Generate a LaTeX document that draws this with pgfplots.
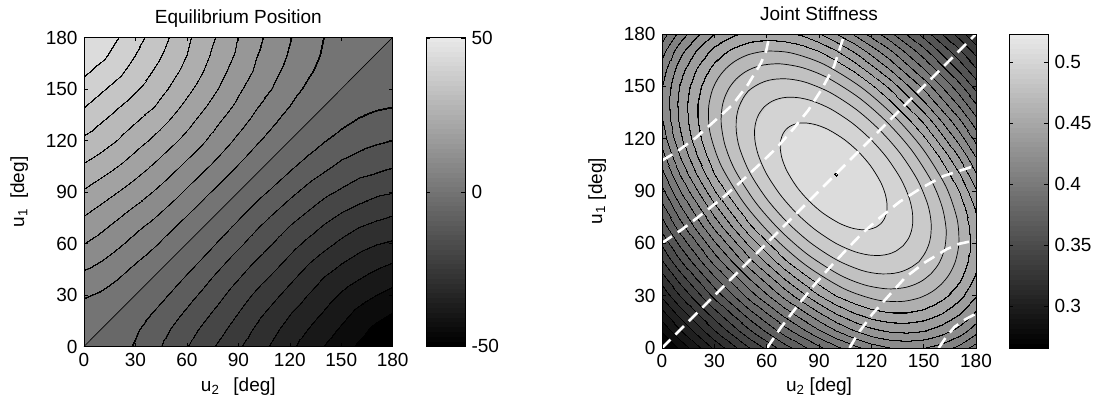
\documentclass[border=0pt]{standalone}
\usepackage{fontspec}
\setmainfont{Liberation Sans}
\usepackage{pgfplots}
\pgfplotsset{compat=1.18}

% filled contour bands with thin black contour lines (position = value scale)
\pgfplotsset{
  colormap={eqmap}{gray(0pt)=(0); gray(54.25pt)=(0); gray(54.45pt)=(0.0479);
    gray(101.55pt)=(0.0479); gray(101.75pt)=(0); gray(104.25pt)=(0); gray(104.45pt)=(0.0932);
    gray(151.55pt)=(0.0932); gray(151.75pt)=(0); gray(154.25pt)=(0); gray(154.45pt)=(0.1384);
    gray(201.55pt)=(0.1384); gray(201.75pt)=(0); gray(204.25pt)=(0); gray(204.45pt)=(0.1836);
    gray(251.55pt)=(0.1836); gray(251.75pt)=(0); gray(254.25pt)=(0); gray(254.45pt)=(0.2289);
    gray(301.55pt)=(0.2289); gray(301.75pt)=(0); gray(304.25pt)=(0); gray(304.45pt)=(0.2741);
    gray(351.55pt)=(0.2741); gray(351.75pt)=(0); gray(354.25pt)=(0); gray(354.45pt)=(0.3193);
    gray(401.55pt)=(0.3193); gray(401.75pt)=(0); gray(404.25pt)=(0); gray(404.45pt)=(0.3646);
    gray(451.55pt)=(0.3646); gray(451.75pt)=(0); gray(454.25pt)=(0); gray(454.45pt)=(0.4098);
    gray(502.9pt)=(0.4098); gray(503.1pt)=(0.4550);
    gray(551.55pt)=(0.4550); gray(551.75pt)=(0); gray(554.25pt)=(0); gray(554.45pt)=(0.5002);
    gray(601.55pt)=(0.5002); gray(601.75pt)=(0); gray(604.25pt)=(0); gray(604.45pt)=(0.5455);
    gray(651.55pt)=(0.5455); gray(651.75pt)=(0); gray(654.25pt)=(0); gray(654.45pt)=(0.5907);
    gray(701.55pt)=(0.5907); gray(701.75pt)=(0); gray(704.25pt)=(0); gray(704.45pt)=(0.6359);
    gray(751.55pt)=(0.6359); gray(751.75pt)=(0); gray(754.25pt)=(0); gray(754.45pt)=(0.6812);
    gray(801.55pt)=(0.6812); gray(801.75pt)=(0); gray(804.25pt)=(0); gray(804.45pt)=(0.7264);
    gray(851.55pt)=(0.7264); gray(851.75pt)=(0); gray(854.25pt)=(0); gray(854.45pt)=(0.7716);
    gray(901.55pt)=(0.7716); gray(901.75pt)=(0); gray(904.25pt)=(0); gray(904.45pt)=(0.8169);
    gray(951.55pt)=(0.8169); gray(951.75pt)=(0); gray(954.25pt)=(0); gray(954.45pt)=(0.8621);
    gray(1006pt)=(0.8621)},
  colormap={kmap}{gray(0pt)=(0); gray(49.5pt)=(0); gray(49.7pt)=(0.0152);
    gray(136.3pt)=(0.0152); gray(136.5pt)=(0); gray(149.5pt)=(0); gray(149.7pt)=(0.0506);
    gray(236.3pt)=(0.0506); gray(236.5pt)=(0); gray(249.5pt)=(0); gray(249.7pt)=(0.0859);
    gray(336.3pt)=(0.0859); gray(336.5pt)=(0); gray(349.5pt)=(0); gray(349.7pt)=(0.1213);
    gray(436.3pt)=(0.1213); gray(436.5pt)=(0); gray(449.5pt)=(0); gray(449.7pt)=(0.1567);
    gray(536.3pt)=(0.1567); gray(536.5pt)=(0); gray(549.5pt)=(0); gray(549.7pt)=(0.1920);
    gray(636.3pt)=(0.1920); gray(636.5pt)=(0); gray(649.5pt)=(0); gray(649.7pt)=(0.2274);
    gray(736.3pt)=(0.2274); gray(736.5pt)=(0); gray(749.5pt)=(0); gray(749.7pt)=(0.2628);
    gray(836.3pt)=(0.2628); gray(836.5pt)=(0); gray(849.5pt)=(0); gray(849.7pt)=(0.2981);
    gray(936.3pt)=(0.2981); gray(936.5pt)=(0); gray(949.5pt)=(0); gray(949.7pt)=(0.3335);
    gray(1036.3pt)=(0.3335); gray(1036.5pt)=(0); gray(1049.5pt)=(0); gray(1049.7pt)=(0.3689);
    gray(1136.3pt)=(0.3689); gray(1136.5pt)=(0); gray(1149.5pt)=(0); gray(1149.7pt)=(0.4042);
    gray(1236.3pt)=(0.4042); gray(1236.5pt)=(0); gray(1249.5pt)=(0); gray(1249.7pt)=(0.4396);
    gray(1336.3pt)=(0.4396); gray(1336.5pt)=(0); gray(1349.5pt)=(0); gray(1349.7pt)=(0.4750);
    gray(1436.3pt)=(0.4750); gray(1436.5pt)=(0); gray(1449.5pt)=(0); gray(1449.7pt)=(0.5103);
    gray(1536.3pt)=(0.5103); gray(1536.5pt)=(0); gray(1549.5pt)=(0); gray(1549.7pt)=(0.5457);
    gray(1636.3pt)=(0.5457); gray(1636.5pt)=(0); gray(1649.5pt)=(0); gray(1649.7pt)=(0.5811);
    gray(1736.3pt)=(0.5811); gray(1736.5pt)=(0); gray(1749.5pt)=(0); gray(1749.7pt)=(0.6164);
    gray(1836.8pt)=(0.6164); gray(1837pt)=(0); gray(1849pt)=(0); gray(1849.2pt)=(0.6518);
    gray(1937.3pt)=(0.6518); gray(1937.5pt)=(0); gray(1948.5pt)=(0); gray(1948.7pt)=(0.6872);
    gray(2042.9pt)=(0.6872); gray(2043.1pt)=(0.7225);
    gray(2142.9pt)=(0.7225); gray(2143.1pt)=(0.7579);
    gray(2242.9pt)=(0.7579); gray(2243.1pt)=(0.7933);
    gray(2342.9pt)=(0.7933); gray(2343.1pt)=(0.8286);
    gray(2442.9pt)=(0.8286); gray(2443.1pt)=(0.8640);
    gray(2541.3pt)=(0.8640); gray(2541.5pt)=(0); gray(2544.5pt)=(0); gray(2544.7pt)=(0.8994);
    gray(2573pt)=(0.8994)},
  % 64-level gray scale for the colour bars
  colormap={cbgray}{gray(0pt)=(0); gray(1pt)=(0.0144); gray(2pt)=(0.0289); gray(3pt)=(0.0433);
    gray(4pt)=(0.0578); gray(5pt)=(0.0722); gray(6pt)=(0.0867); gray(7pt)=(0.1011);
    gray(8pt)=(0.1156); gray(9pt)=(0.1300); gray(10pt)=(0.1444); gray(11pt)=(0.1589);
    gray(12pt)=(0.1733); gray(13pt)=(0.1878); gray(14pt)=(0.2022); gray(15pt)=(0.2167);
    gray(16pt)=(0.2311); gray(17pt)=(0.2456); gray(18pt)=(0.2600); gray(19pt)=(0.2744);
    gray(20pt)=(0.2889); gray(21pt)=(0.3033); gray(22pt)=(0.3178); gray(23pt)=(0.3322);
    gray(24pt)=(0.3467); gray(25pt)=(0.3611); gray(26pt)=(0.3756); gray(27pt)=(0.3900);
    gray(28pt)=(0.4044); gray(29pt)=(0.4189); gray(30pt)=(0.4333); gray(31pt)=(0.4478);
    gray(32pt)=(0.4622); gray(33pt)=(0.4767); gray(34pt)=(0.4911); gray(35pt)=(0.5056);
    gray(36pt)=(0.5200); gray(37pt)=(0.5344); gray(38pt)=(0.5489); gray(39pt)=(0.5633);
    gray(40pt)=(0.5778); gray(41pt)=(0.5922); gray(42pt)=(0.6067); gray(43pt)=(0.6211);
    gray(44pt)=(0.6356); gray(45pt)=(0.6500); gray(46pt)=(0.6644); gray(47pt)=(0.6789);
    gray(48pt)=(0.6933); gray(49pt)=(0.7078); gray(50pt)=(0.7222); gray(51pt)=(0.7367);
    gray(52pt)=(0.7511); gray(53pt)=(0.7656); gray(54pt)=(0.7800); gray(55pt)=(0.7944);
    gray(56pt)=(0.8089); gray(57pt)=(0.8233); gray(58pt)=(0.8378); gray(59pt)=(0.8522);
    gray(60pt)=(0.8667); gray(61pt)=(0.8811); gray(62pt)=(0.8956); gray(63pt)=(0.9100);
    gray(64pt)=(0.9100)},
  panel/.style={anchor=south west, scale only axis,
    xmin=0, xmax=180, ymin=0, ymax=180,
    xtick={0,30,...,180}, ytick={0,30,...,180},
    tick align=inside, major tick length=4pt, axis on top, enlargelimits=false,
    /pgf/number format/assume math mode=true,
    tick style={black, line width=0.6pt}, axis line style={line width=0.6pt},
    title style={at={(axis description cs:0.5,1)}, anchor=base, yshift=8pt},
    xlabel style={at={(axis description cs:0.5,0)}, anchor=base},
    ylabel style={anchor=base}},
  cbar/.style={anchor=south west, scale only axis, width=39pt,
    xmin=0, xmax=1, xtick=\empty, ytick pos=both, yticklabel pos=right,
    tick align=inside, major tick length=4pt, axis on top, enlargelimits=false,
    tick style={black, line width=0.6pt}, axis line style={line width=0.6pt},
    colormap name=cbgray, colormap access=piecewise constant},
  qline/.style={white, line width=2.6pt, dash pattern=on 12pt off 7pt},
  ring/.style={black, line width=0.7pt, smooth}
}

\begin{document}
\fontsize{19}{22}\selectfont
\begin{tikzpicture}
\useasboundingbox (0,0) rectangle (1095pt,410pt);

% ---------------- equilibrium position ----------------
\begin{axis}[panel, at={(84pt,63.5pt)}, width=308.7pt, height=309pt,
  colormap name=eqmap, point meta min=-50.3, point meta max=50.3,
  title={Equilibrium Position},
  xlabel={u\textsubscript{2}\hspace{14pt}[deg]}, xlabel style={yshift=-45pt},
  ylabel={u\textsubscript{1}\hspace{10pt}[deg]}, ylabel style={at={(axis description cs:-0.194,0.5)}}]
\addplot[surf, shader=interp, mesh/rows=19, mesh/cols=19, point meta=explicit] coordinates {
(0,0) [0] (10,0) [-1.0] (20,0) [-2.9] (30,0) [-5.5] (40,0) [-8.5] (50,0) [-11.7] (60,0) [-14.9] (70,0) [-18.1] (80,0) [-21.2] (90,0) [-24.4] (100,0) [-27.6] (110,0) [-30.9] (120,0) [-34.0] (130,0) [-37.2] (140,0) [-40.2] (150,0) [-43.0] (160,0) [-45.7] (170,0) [-48.1] (180,0) [-50.3]
(0,10) [1.0] (10,10) [0] (20,10) [-1.8] (30,10) [-4.3] (40,10) [-7.1] (50,10) [-10.0] (60,10) [-13.0] (70,10) [-16.0] (80,10) [-19.0] (90,10) [-22.2] (100,10) [-25.5] (110,10) [-28.9] (120,10) [-32.0] (130,10) [-34.9] (140,10) [-37.8] (150,10) [-40.6] (160,10) [-43.4] (170,10) [-46.1] (180,10) [-47.8]
(0,20) [2.9] (10,20) [1.8] (20,20) [0] (30,20) [-2.4] (40,20) [-5.1] (50,20) [-7.8] (60,20) [-10.7] (70,20) [-13.7] (80,20) [-16.7] (90,20) [-19.9] (100,20) [-23.2] (110,20) [-26.5] (120,20) [-29.7] (130,20) [-32.5] (140,20) [-35.3] (150,20) [-38.2] (160,20) [-41.0] (170,20) [-43.2] (180,20) [-45.0]
(0,30) [5.5] (10,30) [4.3] (20,30) [2.4] (30,30) [0] (40,30) [-2.6] (50,30) [-5.4] (60,30) [-8.3] (70,30) [-11.2] (80,30) [-14.3] (90,30) [-17.5] (100,30) [-20.7] (110,30) [-23.8] (120,30) [-26.9] (130,30) [-30.0] (140,30) [-32.9] (150,30) [-35.6] (160,30) [-37.9] (170,30) [-40.0] (180,30) [-41.7]
(0,40) [8.5] (10,40) [7.1] (20,40) [5.1] (30,40) [2.6] (40,40) [0] (50,40) [-2.8] (60,40) [-5.7] (70,40) [-8.7] (80,40) [-11.8] (90,40) [-14.8] (100,40) [-17.9] (110,40) [-21.0] (120,40) [-24.1] (130,40) [-27.2] (140,40) [-30.3] (150,40) [-32.7] (160,40) [-34.7] (170,40) [-36.7] (180,40) [-38.3]
(0,50) [11.7] (10,50) [10.0] (20,50) [7.8] (30,50) [5.4] (40,50) [2.8] (50,50) [0] (60,50) [-2.9] (70,50) [-5.9] (80,50) [-9.0] (90,50) [-12.1] (100,50) [-15.1] (110,50) [-18.1] (120,50) [-21.2] (130,50) [-24.3] (140,50) [-27.0] (150,50) [-29.5] (160,50) [-31.6] (170,50) [-33.3] (180,50) [-34.7]
(0,60) [14.9] (10,60) [13.0] (20,60) [10.7] (30,60) [8.3] (40,60) [5.7] (50,60) [2.9] (60,60) [0] (70,60) [-3.0] (80,60) [-6.1] (90,60) [-9.1] (100,60) [-12.2] (110,60) [-15.2] (120,60) [-18.3] (130,60) [-21.1] (140,60) [-23.7] (150,60) [-26.1] (160,60) [-28.3] (170,60) [-29.9] (180,60) [-30.8]
(0,70) [18.1] (10,70) [16.0] (20,70) [13.7] (30,70) [11.2] (40,70) [8.7] (50,70) [5.9] (60,70) [3.0] (70,70) [0] (80,70) [-3.1] (90,70) [-6.1] (100,70) [-9.2] (110,70) [-12.3] (120,70) [-15.2] (130,70) [-17.8] (140,70) [-20.4] (150,70) [-22.7] (160,70) [-24.7] (170,70) [-26.2] (180,70) [-27.2]
(0,80) [21.2] (10,80) [19.0] (20,80) [16.7] (30,80) [14.3] (40,80) [11.8] (50,80) [9.0] (60,80) [6.1] (70,80) [3.1] (80,80) [0] (90,80) [-3.1] (100,80) [-6.2] (110,80) [-9.2] (120,80) [-12.0] (130,80) [-14.6] (140,80) [-17.1] (150,80) [-19.3] (160,80) [-21.0] (170,80) [-22.5] (180,80) [-23.8]
(0,90) [24.4] (10,90) [22.2] (20,90) [19.9] (30,90) [17.5] (40,90) [14.8] (50,90) [12.1] (60,90) [9.1] (70,90) [6.1] (80,90) [3.1] (90,90) [0] (100,90) [-3.1] (110,90) [-6.1] (120,90) [-8.9] (130,90) [-11.5] (140,90) [-13.9] (150,90) [-15.8] (160,90) [-17.6] (170,90) [-19.1] (180,90) [-19.8]
(0,100) [27.6] (10,100) [25.5] (20,100) [23.2] (30,100) [20.7] (40,100) [17.9] (50,100) [15.1] (60,100) [12.2] (70,100) [9.2] (80,100) [6.2] (90,100) [3.1] (100,100) [0] (110,100) [-3.0] (120,100) [-5.8] (130,100) [-8.4] (140,100) [-10.6] (150,100) [-12.6] (160,100) [-14.4] (170,100) [-15.4] (180,100) [-16.4]
(0,110) [30.9] (10,110) [28.9] (20,110) [26.5] (30,110) [23.8] (40,110) [21.0] (50,110) [18.1] (60,110) [15.2] (70,110) [12.3] (80,110) [9.2] (90,110) [6.1] (100,110) [3.0] (110,110) [0] (120,110) [-2.8] (130,110) [-5.4] (140,110) [-7.6] (150,110) [-9.7] (160,110) [-11.1] (170,110) [-12.4] (180,110) [-13.1]
(0,120) [34.0] (10,120) [32.0] (20,120) [29.7] (30,120) [26.9] (40,120) [24.1] (50,120) [21.2] (60,120) [18.3] (70,120) [15.2] (80,120) [12.0] (90,120) [8.9] (100,120) [5.8] (110,120) [2.8] (120,120) [0] (130,120) [-2.6] (140,120) [-4.9] (150,120) [-6.7] (160,120) [-8.3] (170,120) [-9.4] (180,120) [-10.2]
(0,130) [37.2] (10,130) [34.9] (20,130) [32.5] (30,130) [30.0] (40,130) [27.2] (50,130) [24.3] (60,130) [21.1] (70,130) [17.8] (80,130) [14.6] (90,130) [11.5] (100,130) [8.4] (110,130) [5.4] (120,130) [2.6] (130,130) [0] (140,130) [-2.2] (150,130) [-4.2] (160,130) [-5.7] (170,130) [-6.8] (180,130) [-7.3]
(0,140) [40.2] (10,140) [37.8] (20,140) [35.3] (30,140) [32.9] (40,140) [30.3] (50,140) [27.0] (60,140) [23.7] (70,140) [20.4] (80,140) [17.1] (90,140) [13.9] (100,140) [10.6] (110,140) [7.6] (120,140) [4.9] (130,140) [2.2] (140,140) [0] (150,140) [-1.9] (160,140) [-3.4] (170,140) [-4.4] (180,140) [-4.9]
(0,150) [43.0] (10,150) [40.6] (20,150) [38.2] (30,150) [35.6] (40,150) [32.7] (50,150) [29.5] (60,150) [26.1] (70,150) [22.7] (80,150) [19.3] (90,150) [15.8] (100,150) [12.6] (110,150) [9.7] (120,150) [6.7] (130,150) [4.2] (140,150) [1.9] (150,150) [0] (160,150) [-1.5] (170,150) [-2.5] (180,150) [-3.1]
(0,160) [45.7] (10,160) [43.4] (20,160) [41.0] (30,160) [37.9] (40,160) [34.7] (50,160) [31.6] (60,160) [28.3] (70,160) [24.7] (80,160) [21.0] (90,160) [17.6] (100,160) [14.4] (110,160) [11.1] (120,160) [8.3] (130,160) [5.7] (140,160) [3.4] (150,160) [1.5] (160,160) [0] (170,160) [-1.0] (180,160) [-1.6]
(0,170) [48.1] (10,170) [46.1] (20,170) [43.2] (30,170) [40.0] (40,170) [36.7] (50,170) [33.3] (60,170) [29.9] (70,170) [26.2] (80,170) [22.5] (90,170) [19.1] (100,170) [15.4] (110,170) [12.4] (120,170) [9.4] (130,170) [6.8] (140,170) [4.4] (150,170) [2.5] (160,170) [1.0] (170,170) [0] (180,170) [-0.6]
(0,180) [50.3] (10,180) [47.8] (20,180) [45.0] (30,180) [41.7] (40,180) [38.3] (50,180) [34.7] (60,180) [30.8] (70,180) [27.2] (80,180) [23.8] (90,180) [19.8] (100,180) [16.4] (110,180) [13.1] (120,180) [10.2] (130,180) [7.3] (140,180) [4.9] (150,180) [3.1] (160,180) [1.6] (170,180) [0.6] (180,180) [0]
};
% zero-position contour
\addplot[black, line width=0.7pt] coordinates {(0,0) (180,180)};
\end{axis}

\begin{axis}[cbar, at={(426pt,63.5pt)}, height=309pt, ymin=-50.3, ymax=50.3,
  ytick={-50,0,50}, yticklabels={-50,0,50}, point meta min=-50.3, point meta max=50.3]
\addplot[surf, shader=interp, mesh/rows=2, mesh/cols=2, point meta=explicit] coordinates {
(0,-50.3) [-50.3] (1,-50.3) [-50.3]
(0,50.3) [50.3] (1,50.3) [50.3]
};
\end{axis}

% ---------------- joint stiffness ----------------
\begin{axis}[panel, at={(662pt,62pt)}, width=314pt, height=314pt,
  colormap name=kmap, point meta min=0.2657, point meta max=0.523,
  title={Joint Stiffness},
  xlabel={u\textsubscript{2} [deg]}, xlabel style={yshift=-43pt},
  ylabel={u\textsubscript{1} [deg]}, ylabel style={at={(axis description cs:-0.191,0.5)}}]
\addplot[surf, shader=interp, mesh/rows=19, mesh/cols=19, point meta=explicit] coordinates {
(0,0) [0.2656] (10,0) [0.2814] (20,0) [0.2968] (30,0) [0.3116] (40,0) [0.3258] (50,0) [0.3394] (60,0) [0.3525] (70,0) [0.3648] (80,0) [0.3764] (90,0) [0.3872] (100,0) [0.3971] (110,0) [0.4063] (120,0) [0.4141] (130,0) [0.4193] (140,0) [0.4212] (150,0) [0.4198] (160,0) [0.4150] (170,0) [0.4065] (180,0) [0.3945]
(0,10) [0.2814] (10,10) [0.2979] (20,10) [0.3137] (30,10) [0.3290] (40,10) [0.3438] (50,10) [0.3581] (60,10) [0.3717] (70,10) [0.3847] (80,10) [0.3970] (90,10) [0.4086] (100,10) [0.4195] (110,10) [0.4293] (120,10) [0.4367] (130,10) [0.4408] (140,10) [0.4420] (150,10) [0.4400] (160,10) [0.4345] (170,10) [0.4257] (180,10) [0.4132]
(0,20) [0.2968] (10,20) [0.3137] (20,20) [0.3301] (30,20) [0.3459] (40,20) [0.3613] (50,20) [0.3761] (60,20) [0.3903] (70,20) [0.4039] (80,20) [0.4169] (90,20) [0.4293] (100,20) [0.4408] (110,20) [0.4499] (120,20) [0.4560] (130,20) [0.4594] (140,20) [0.4596] (150,20) [0.4567] (160,20) [0.4507] (170,20) [0.4412] (180,20) [0.4284]
(0,30) [0.3116] (10,30) [0.3290] (20,30) [0.3459] (30,30) [0.3624] (40,30) [0.3782] (50,30) [0.3935] (60,30) [0.4083] (70,30) [0.4225] (80,30) [0.4362] (90,30) [0.4491] (100,30) [0.4597] (110,30) [0.4675] (120,30) [0.4726] (130,30) [0.4748] (140,30) [0.4741] (150,30) [0.4703] (160,30) [0.4634] (170,30) [0.4534] (180,30) [0.4400]
(0,40) [0.3258] (10,40) [0.3438] (20,40) [0.3613] (30,40) [0.3782] (40,40) [0.3946] (50,40) [0.4104] (60,40) [0.4257] (70,40) [0.4406] (80,40) [0.4547] (90,40) [0.4666] (100,40) [0.4758] (110,40) [0.4824] (120,40) [0.4863] (130,40) [0.4873] (140,40) [0.4855] (150,40) [0.4808] (160,40) [0.4730] (170,40) [0.4622] (180,40) [0.4481]
(0,50) [0.3394] (10,50) [0.3581] (20,50) [0.3761] (30,50) [0.3935] (40,50) [0.4104] (50,50) [0.4268] (60,50) [0.4427] (70,50) [0.4579] (80,50) [0.4710] (90,50) [0.4814] (100,50) [0.4893] (110,50) [0.4946] (120,50) [0.4971] (130,50) [0.4970] (140,50) [0.4940] (150,50) [0.4882] (160,50) [0.4796] (170,50) [0.4677] (180,50) [0.4529]
(0,60) [0.3525] (10,60) [0.3717] (20,60) [0.3903] (30,60) [0.4083] (40,60) [0.4257] (50,60) [0.4427] (60,60) [0.4590] (70,60) [0.4731] (80,60) [0.4846] (90,60) [0.4937] (100,60) [0.5002] (110,60) [0.5040] (120,60) [0.5053] (130,60) [0.5038] (140,60) [0.4997] (150,60) [0.4928] (160,60) [0.4829] (170,60) [0.4703] (180,60) [0.4544]
(0,70) [0.3648] (10,70) [0.3847] (20,70) [0.4039] (30,70) [0.4225] (40,70) [0.4406] (50,70) [0.4579] (60,70) [0.4731] (70,70) [0.4857] (80,70) [0.4958] (90,70) [0.5034] (100,70) [0.5084] (110,70) [0.5109] (120,70) [0.5107] (130,70) [0.5080] (140,70) [0.5026] (150,70) [0.4944] (160,70) [0.4835] (170,70) [0.4696] (180,70) [0.4530]
(0,80) [0.3764] (10,80) [0.3970] (20,80) [0.4169] (30,80) [0.4362] (40,80) [0.4547] (50,80) [0.4710] (60,80) [0.4846] (70,80) [0.4958] (80,80) [0.5045] (90,80) [0.5105] (100,80) [0.5141] (110,80) [0.5151] (120,80) [0.5136] (130,80) [0.5095] (140,80) [0.5027] (150,80) [0.4933] (160,80) [0.4811] (170,80) [0.4662] (180,80) [0.4484]
(0,90) [0.3872] (10,90) [0.4086] (20,90) [0.4293] (30,90) [0.4491] (40,90) [0.4666] (50,90) [0.4814] (60,90) [0.4937] (70,90) [0.5034] (80,90) [0.5105] (90,90) [0.5152] (100,90) [0.5172] (110,90) [0.5168] (120,90) [0.5139] (130,90) [0.5083] (140,90) [0.5002] (150,90) [0.4894] (160,90) [0.4760] (170,90) [0.4599] (180,90) [0.4409]
(0,100) [0.3971] (10,100) [0.4195] (20,100) [0.4408] (30,100) [0.4597] (40,100) [0.4758] (50,100) [0.4893] (60,100) [0.5002] (70,100) [0.5084] (80,100) [0.5141] (90,100) [0.5172] (100,100) [0.5202] (110,100) [0.5160] (120,100) [0.5115] (130,100) [0.5046] (140,100) [0.4950] (150,100) [0.4829] (160,100) [0.4682] (170,100) [0.4507] (180,100) [0.4306]
(0,110) [0.4063] (10,110) [0.4293] (20,110) [0.4499] (30,110) [0.4675] (40,110) [0.4824] (50,110) [0.4946] (60,110) [0.5040] (70,110) [0.5109] (80,110) [0.5151] (90,110) [0.5168] (100,110) [0.5160] (110,110) [0.5126] (120,110) [0.5067] (130,110) [0.4982] (140,110) [0.4873] (150,110) [0.4738] (160,110) [0.4576] (170,110) [0.4389] (180,110) [0.4189]
(0,120) [0.4141] (10,120) [0.4367] (20,120) [0.4560] (30,120) [0.4726] (40,120) [0.4863] (50,120) [0.4971] (60,120) [0.5053] (70,120) [0.5107] (80,120) [0.5136] (90,120) [0.5139] (100,120) [0.5115] (110,120) [0.5067] (120,120) [0.4993] (130,120) [0.4894] (140,120) [0.4770] (150,120) [0.4620] (160,120) [0.4445] (170,120) [0.4258] (180,120) [0.4066]
(0,130) [0.4193] (10,130) [0.4408] (20,130) [0.4594] (30,130) [0.4748] (40,130) [0.4873] (50,130) [0.4970] (60,130) [0.5038] (70,130) [0.5080] (80,130) [0.5095] (90,130) [0.5083] (100,130) [0.5046] (110,130) [0.4982] (120,130) [0.4894] (130,130) [0.4781] (140,130) [0.4641] (150,130) [0.4477] (160,130) [0.4302] (170,130) [0.4122] (180,130) [0.3936]
(0,140) [0.4212] (10,140) [0.4420] (20,140) [0.4596] (30,140) [0.4741] (40,140) [0.4855] (50,140) [0.4940] (60,140) [0.4997] (70,140) [0.5026] (80,140) [0.5027] (90,140) [0.5002] (100,140) [0.4950] (110,140) [0.4873] (120,140) [0.4770] (130,140) [0.4641] (140,140) [0.4488] (150,140) [0.4323] (160,140) [0.4154] (170,140) [0.3980] (180,140) [0.3800]
(0,150) [0.4198] (10,150) [0.4400] (20,150) [0.4567] (30,150) [0.4703] (40,150) [0.4808] (50,150) [0.4882] (60,150) [0.4928] (70,150) [0.4944] (80,150) [0.4933] (90,150) [0.4894] (100,150) [0.4829] (110,150) [0.4738] (120,150) [0.4620] (130,150) [0.4477] (140,150) [0.4323] (150,150) [0.4165] (160,150) [0.4001] (170,150) [0.3832] (180,150) [0.3657]
(0,160) [0.4150] (10,160) [0.4345] (20,160) [0.4507] (30,160) [0.4634] (40,160) [0.4730] (50,160) [0.4796] (60,160) [0.4829] (70,160) [0.4835] (80,160) [0.4811] (90,160) [0.4760] (100,160) [0.4682] (110,160) [0.4576] (120,160) [0.4445] (130,160) [0.4302] (140,160) [0.4154] (150,160) [0.4001] (160,160) [0.3843] (170,160) [0.3678] (180,160) [0.3509]
(0,170) [0.4065] (10,170) [0.4257] (20,170) [0.4412] (30,170) [0.4534] (40,170) [0.4622] (50,170) [0.4677] (60,170) [0.4703] (70,170) [0.4696] (80,170) [0.4662] (90,170) [0.4599] (100,170) [0.4507] (110,170) [0.4389] (120,170) [0.4258] (130,170) [0.4122] (140,170) [0.3980] (150,170) [0.3832] (160,170) [0.3678] (170,170) [0.3520] (180,170) [0.3356]
(0,180) [0.3945] (10,180) [0.4132] (20,180) [0.4284] (30,180) [0.4400] (40,180) [0.4481] (50,180) [0.4529] (60,180) [0.4544] (70,180) [0.4530] (80,180) [0.4484] (90,180) [0.4409] (100,180) [0.4306] (110,180) [0.4189] (120,180) [0.4066] (130,180) [0.3936] (140,180) [0.3800] (150,180) [0.3657] (160,180) [0.3509] (170,180) [0.3356] (180,180) [0.3198]
};
% closed inner contours 0.47 ... 0.51
\addplot[ring] coordinates {(160.18,36.62) (163.45,40.45) (165.93,44.43) (168.42,50.42) (170.18,60.18) (169.11,74.11) (162.69,92.69) (149.34,114.34) (133.04,133.04) (114.34,149.34) (92.69,162.69) (74.11,169.11) (60.18,170.18) (50.42,168.42) (44.43,165.93) (40.45,163.45) (36.62,160.18) (33.35,156.35) (30.87,152.37) (28.38,146.38) (26.62,136.62) (27.69,122.69) (34.11,104.11) (47.46,82.46) (63.76,63.76) (82.46,47.46) (104.11,34.11) (122.69,27.69) (136.62,26.62) (146.38,28.38) (152.37,30.87) (156.35,33.35) (160.18,36.62)};
\addplot[ring] coordinates {(154.23,42.57) (157.83,47.03) (160.37,51.87) (162.26,58.26) (162.89,67.89) (160.65,80.65) (154.91,94.91) (143.24,113.24) (129.22,129.22) (113.24,143.24) (94.91,154.91) (80.65,160.65) (67.89,162.89) (58.26,162.26) (51.87,160.37) (47.03,157.83) (42.57,154.23) (38.97,149.77) (36.43,144.93) (34.54,138.54) (33.91,128.91) (36.15,116.15) (41.89,101.89) (53.56,83.56) (67.58,67.58) (83.56,53.56) (101.89,41.89) (116.15,36.15) (128.91,33.91) (138.54,34.54) (144.93,36.43) (149.77,38.97) (154.23,42.57)};
\addplot[ring] coordinates {(147.3,49.5) (150.55,54.05) (152.73,58.73) (154.02,64.02) (154.24,72.24) (152.32,82.32) (146.43,96.43) (136.57,111.57) (124.86,124.86) (111.57,136.57) (96.43,146.43) (82.32,152.32) (72.24,154.24) (64.02,154.02) (58.73,152.73) (54.05,150.55) (49.5,147.3) (46.25,142.75) (44.07,138.07) (42.78,132.78) (42.56,124.56) (44.48,114.48) (50.37,100.37) (60.23,85.23) (71.94,71.94) (85.23,60.23) (100.37,50.37) (114.48,44.48) (124.56,42.56) (132.78,42.78) (138.07,44.07) (142.75,46.25) (147.3,49.5)};
\addplot[ring] coordinates {(138.2,58.6) (141.3,62.8) (142.93,66.93) (143.73,71.73) (143.45,78.45) (141.51,86.51) (136.92,96.92) (128.98,108.98) (119.62,119.62) (108.98,128.98) (96.92,136.92) (86.51,141.51) (78.45,143.45) (71.73,143.73) (66.93,142.93) (62.8,141.3) (58.6,138.2) (55.5,134.0) (53.87,129.87) (53.07,125.07) (53.35,118.35) (55.29,110.29) (59.88,99.88) (67.82,87.82) (77.18,77.18) (87.82,67.82) (99.88,59.88) (110.29,55.29) (118.35,53.35) (125.07,53.07) (129.87,53.87) (134.0,55.5) (138.2,58.6)};
\addplot[ring] coordinates {(125.5,71.3) (127.43,73.93) (128.76,77.76) (129.03,82.03) (128.03,88.03) (125.25,95.25) (119.51,104.51) (112.54,112.54) (104.51,119.51) (95.25,125.25) (88.03,128.03) (82.03,129.03) (77.76,128.76) (73.93,127.43) (71.3,125.5) (69.37,122.87) (68.05,119.05) (67.77,114.77) (68.77,108.77) (71.56,101.56) (77.29,92.29) (84.26,84.26) (92.29,77.29) (101.56,71.56) (108.77,68.77) (114.77,67.77) (119.05,68.05) (122.87,69.37) (125.5,71.3)};
% lines of constant equilibrium position (30, 15, 0, -15, -30, -45 deg)
\addplot[qline] coordinates {(0,107.5) (7.9,112.1) (19.5,120.6) (30,130) (40.5,139.5) (49.2,150.9) (56.7,163.3) (59.7,170.3) (61.8,180)};
\addplot[qline] coordinates {(0,60.2) (11.8,68.2) (23.1,76.9) (34.3,85.7) (45.0,95.1) (55.3,104.7) (65.5,114.5) (74.9,125.1) (83.8,136.2) (91.6,148.4) (98.6,161.4) (103.5,176.5) (104.2,180)};
\addplot[qline] coordinates {(0,0) (180,180)};
\addplot[qline] coordinates {(60.2,0) (68.2,11.8) (76.9,23.1) (85.7,34.3) (95.1,45.0) (104.7,55.3) (114.5,65.5) (125.1,74.9) (136.2,83.8) (148.4,91.6) (161.4,98.6) (176.5,103.5) (180,104.2)};
\addplot[qline] coordinates {(107.5,0) (112.1,7.9) (120.6,19.5) (130,30) (139.5,40.5) (150.9,49.2) (163.3,56.7) (170.3,59.7) (180,61.8)};
\addplot[qline] coordinates {(158.6,0) (163.2,6.8) (167.8,12.2) (173.7,16.3) (180,19.7)};
\end{axis}

\begin{axis}[cbar, at={(1009pt,62pt)}, height=314pt, ymin=0.2657, ymax=0.523,
  ytick={0.3,0.35,0.4,0.45,0.5}, yticklabels={0.3,0.35,0.4,0.45,0.5},
  point meta min=0.2657, point meta max=0.523]
\addplot[surf, shader=interp, mesh/rows=2, mesh/cols=2, point meta=explicit] coordinates {
(0,0.2657) [0.2657] (1,0.2657) [0.2657]
(0,0.523) [0.523] (1,0.523) [0.523]
};
\end{axis}
\end{tikzpicture}
\end{document}
